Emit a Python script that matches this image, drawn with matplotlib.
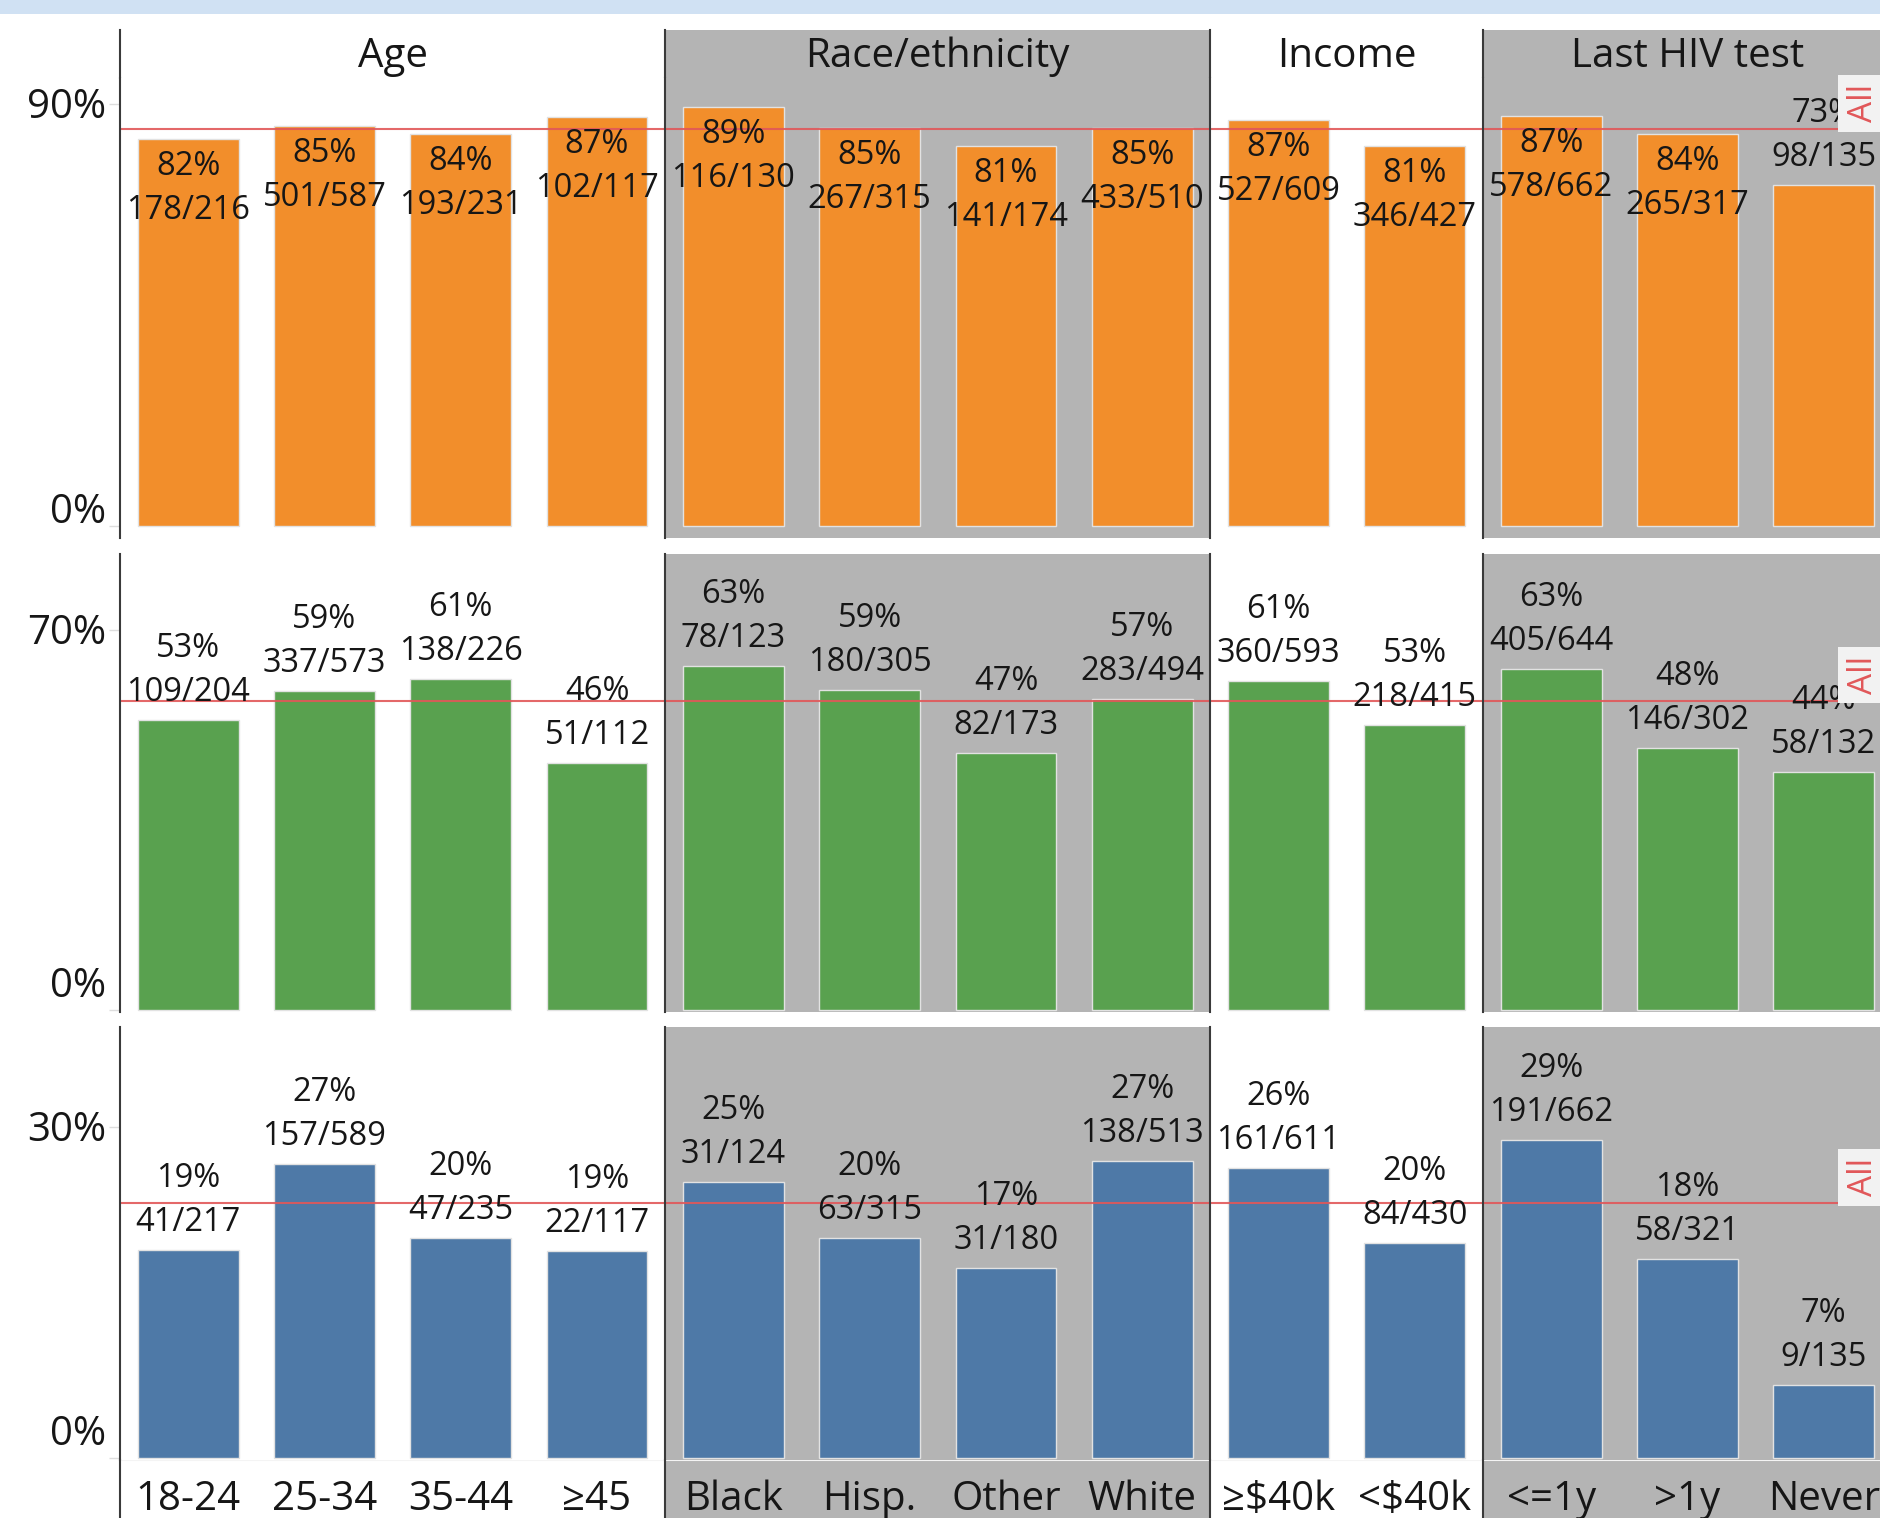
import matplotlib
matplotlib.use("Agg")
import matplotlib.pyplot as plt
import matplotlib.transforms as mtransforms
from matplotlib.patches import Rectangle

plt.rcParams['font.family'] = ['Open Sans', 'DejaVu Sans']

# ---- data ----
groups = ["Age", "Race/ethnicity", "Income", "Last HIV test"]
group_sizes = [4, 4, 2, 3]
categories = ["18-24", "25-34", "35-44", "\u226545",
              "Black", "Hisp.", "Other", "White",
              "\u2265$40k", "<$40k",
              "<=1y", ">1y", "Never"]

num1 = [178, 501, 193, 102, 116, 267, 141, 433, 527, 346, 578, 265, 98]
den1 = [216, 587, 231, 117, 130, 315, 174, 510, 609, 427, 662, 317, 135]
num2 = [109, 337, 138, 51, 78, 180, 82, 283, 360, 218, 405, 146, 58]
den2 = [204, 573, 226, 112, 123, 305, 173, 494, 593, 415, 644, 302, 132]
num3 = [41, 157, 47, 22, 31, 63, 31, 138, 161, 84, 191, 58, 9]
den3 = [217, 589, 235, 117, 124, 315, 180, 513, 611, 430, 662, 321, 135]

all_pct = [84.6, 57.0, 23.1]      # red "All" reference lines
top_ticks = [90, 70, 30]
bar_colors = ["#f28e2b", "#59a14f", "#4e79a7"]

# ---- layout (pixels of the 1881x1518 canvas) ----
W, H = 1881, 1518
GRAY = "#b4b4b4"
LINE = "#3a3a3a"
TXT = "#161616"
XLIM = (-0.5, 12.42)
rows_px = [(78, 538), (554, 1012), (1027, 1460)]
ylims = [(-2.56, 95.5), (-0.37, 84.1), (-0.18, 39.1)]

fig = plt.figure(figsize=(W / 100, H / 100), dpi=100)
fig.patches.append(Rectangle((0, 1 - 14 / H), 1, 14 / H, transform=fig.transFigure,
                             facecolor="#d0e1f3", edgecolor="none"))


def px_axes(y0, y1, x0=120, x1=W):
    return fig.add_axes([x0 / W, 1 - y1 / H, (x1 - x0) / W, (y1 - y0) / H])


# group boundaries in data x
bounds = [-0.5]
for s in group_sizes:
    bounds.append(bounds[-1] + s)


def decorate(ax):
    ax.set_xlim(*XLIM)
    for side in ["top", "right", "bottom", "left"]:
        ax.spines[side].set_visible(False)
    ax.axvspan(bounds[1], bounds[2], color=GRAY, zorder=0, lw=0)
    ax.axvspan(bounds[3], bounds[4] + 1, color=GRAY, zorder=0, lw=0)
    for b in bounds[:4]:
        ax.axvline(b, color=LINE, lw=1.5, zorder=6, clip_on=False)
    ax.set_xticks([])


# header row
hax = px_axes(30, 78)
decorate(hax)
hax.set_ylim(0, 1)
hax.set_yticks([])
for g in range(4):
    hax.annotate(groups[g], xy=((bounds[g] + bounds[g + 1]) / 2, 1), xycoords=("data", "axes fraction"),
                 xytext=(0, -37), textcoords="offset pixels", ha="center", va="baseline",
                 fontsize=29, color=TXT)

x = list(range(len(categories)))
nums = [num1, num2, num3]
dens = [den1, den2, den3]

for r in range(3):
    ax = px_axes(*rows_px[r])
    decorate(ax)
    ax.set_ylim(*ylims[r])
    vals = [100 * n / d for n, d in zip(nums[r], dens[r])]
    ax.bar(x, vals, width=0.74, color=bar_colors[r], edgecolor="#e2e2e2", linewidth=1, zorder=2)

    # y ticks
    ax.set_yticks([0, top_ticks[r]])
    ax.tick_params(axis="y", length=8, width=1, color="#dddddd", labelleft=False)
    blend = mtransforms.blended_transform_factory(ax.transAxes, ax.transData)
    ax.annotate(f"{top_ticks[r]}%", xy=(-14 / 1761, top_ticks[r]), xycoords=blend,
                xytext=(0, -14), textcoords="offset pixels", ha="right", va="baseline",
                fontsize=29, color=TXT, annotation_clip=False)
    ax.annotate("0%", xy=(-14 / 1761, 0), xycoords="axes fraction",
                xytext=(0, 15), textcoords="offset pixels", ha="right", va="baseline",
                fontsize=29, color=TXT, annotation_clip=False)

    # reference line with its "All" tag
    ax.axhline(all_pct[r], color="#e15759", lw=1.5, alpha=0.9, zorder=4)
    ax.annotate("All", xy=(1744 / 1761, all_pct[r]), xycoords=blend,
                xytext=(0, 26), textcoords="offset pixels", ha="center", va="center",
                rotation=90, fontsize=24, color="#e15759", zorder=8,
                bbox=dict(boxstyle="square,pad=0.28", facecolor="#f2f2f2", edgecolor="none"),
                annotation_clip=False)

    # bar labels: above the bar, or inside the top when there is no room
    for i, v in enumerate(vals):
        top_disp = ax.transData.transform((i, v))[1]
        inside = top_disp + 93 > ax.bbox.y1
        off_pct, off_frac = (-36, -80) if inside else (63, 19)
        ax.annotate(f"{round(v)}%", xy=(i, v), xytext=(0, off_pct), textcoords="offset pixels",
                    ha="center", va="baseline", fontsize=23.5, color=TXT, zorder=5)
        ax.annotate(f"{nums[r][i]}/{dens[r][i]}", xy=(i, v), xytext=(0, off_frac),
                    textcoords="offset pixels", ha="center", va="baseline",
                    fontsize=23.5, color=TXT, zorder=5)

# category labels row
lax = px_axes(1460, H)
decorate(lax)
lax.set_ylim(0, 1)
lax.set_yticks([])
lax.axhline(1, color="#f4f4f4", lw=1.5, zorder=3)
for i, c in enumerate(categories):
    lax.annotate(c, xy=(i, 1), xycoords=("data", "axes fraction"), xytext=(0, -50),
                 textcoords="offset pixels", ha="center", va="baseline",
                 fontsize=29, color=TXT)

fig.savefig("out.png", dpi=100)
